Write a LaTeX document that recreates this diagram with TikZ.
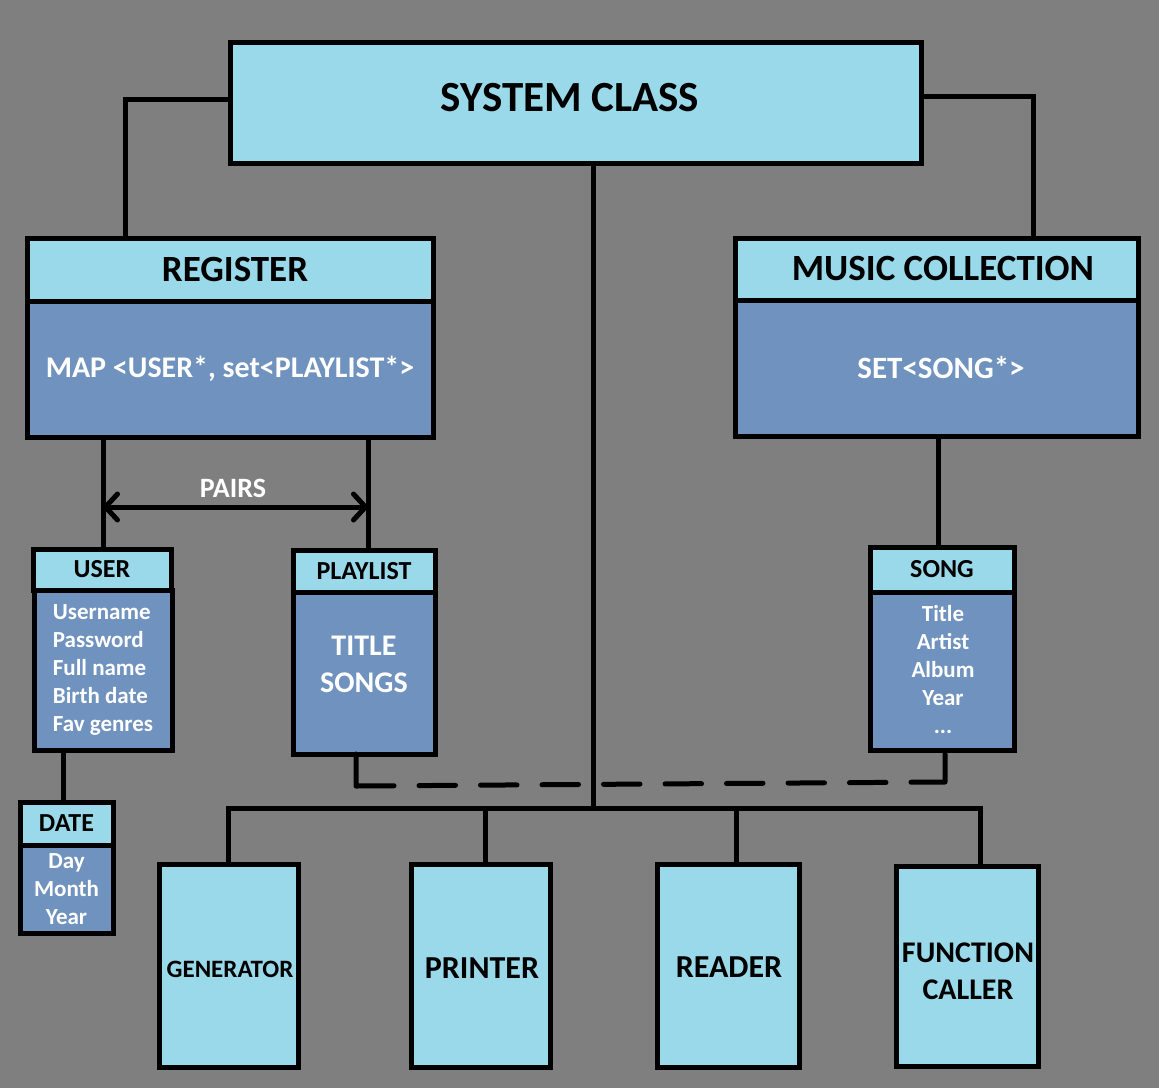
\documentclass[tikz,border=0pt]{standalone}
\usepackage{fontspec}
\setmainfont{Carlito}
\usetikzlibrary{arrows.meta}
\definecolor{bg}{RGB}{127,127,127}
\definecolor{lb}{RGB}{153,217,234}
\definecolor{db}{RGB}{112,146,190}
\newcommand\myfs[2]{\fontsize{#1}{#2}\selectfont}
\begin{document}
\begin{tikzpicture}[x=1pt,y=-1pt,
  box/.style={draw=black, line width=5pt, inner sep=0pt, outer sep=0pt, align=center},
  hdr/.style={box, fill=lb, text=black},
  bdy/.style={box, fill=db, text=white},
  conn/.style={draw=black, line width=5pt},
  txt/.style={align=center, inner sep=0pt},
  dtxt/.style={txt, text=black},
  wtxt/.style={txt, text=white},
  barb/.style={{Straight Barb[length=12pt,width=26pt,round]}-{Straight Barb[length=12pt,width=26pt,round]}}]
\fill[bg] (0,0) rectangle (1159,1088);
\useasboundingbox (0,0) rectangle (1159,1088);

% top
\node[hdr, minimum width=691pt, minimum height=121pt] (sys) at (575.5,102.5) {};
\node[dtxt, font=\bfseries\myfs{43}{51}] (systext) at (570,98) {SYSTEM CLASS};

% register
\node[hdr, minimum width=406pt, minimum height=63pt] (reghdr) at (230,269.5) {};
\node[dtxt, font=\bfseries\myfs{37}{44}] (regtext) at (235,269) {REGISTER};
\node[bdy, minimum width=406pt, minimum height=136pt, font=\bfseries\myfs{30}{36}] (regbody) at (230,369) {MAP <USER*, set<PLAYLIST*>};

% music collection
\node[hdr, minimum width=403pt, minimum height=62pt] (mushdr) at (936.5,269) {};
\node[dtxt, font=\bfseries\myfs{37}{44}] (mustext) at (943,268) {MUSIC COLLECTION};
\node[bdy, minimum width=403pt, minimum height=136pt] (musbody) at (936.5,368) {};
\node[wtxt, font=\bfseries\myfs{31}{37}] (musbtext) at (941,368) {SET<SONG*>};

% user
\node[hdr, minimum width=138pt, minimum height=41pt, font=\bfseries\myfs{26}{31}] (userhdr) at (102,569.5) {USER};
\node[bdy, minimum width=138pt, minimum height=160pt, align=left, font=\bfseries\myfs{23}{28}] (userbody) at (103,670) {Username\\Password\\Full name\\Birth date\\Fav genres};

% playlist
\node[hdr, minimum width=142pt, minimum height=42pt, font=\bfseries\myfs{26}{31}] (plhdr) at (364,571) {PLAYLIST};
\node[bdy, minimum width=142pt, minimum height=162pt] (plbody) at (364,673) {};
\node[wtxt, font=\bfseries\myfs{30}{37}] (pltext) at (364,664.5) {TITLE\\SONGS};

% date
\node[hdr, minimum width=93pt, minimum height=43pt, font=\bfseries\myfs{26}{31}] (datehdr) at (66.5,823.5) {DATE};
\node[bdy, minimum width=93pt, minimum height=88pt, font=\bfseries\myfs{23}{28}] (datebody) at (66.5,889) {Day\\Month\\Year};

% song
\node[hdr, minimum width=144pt, minimum height=45pt, font=\bfseries\myfs{26}{31}] (songhdr) at (942,569.5) {SONG};
\node[bdy, minimum width=144pt, minimum height=158pt] (songbody) at (942,671) {};
\node[wtxt, font=\bfseries\myfs{23}{28}] (songtext) at (943,669) {Title\\Artist\\Album\\Year\\...};

% bottom row
\node[hdr, minimum width=139pt, minimum height=203pt] (gen) at (228.5,965.5) {};
\node[dtxt, font=\bfseries\myfs{25}{30}] (gentext) at (230,969) {GENERATOR};
\node[hdr, minimum width=139pt, minimum height=203pt] (prn) at (480.5,965.5) {};
\node[dtxt, font=\bfseries\myfs{32}{38}] (prntext) at (482,968) {PRINTER};
\node[hdr, minimum width=142pt, minimum height=203pt] (rdr) at (728,965.5) {};
\node[dtxt, font=\bfseries\myfs{32}{38}] (rdrtext) at (729,967) {READER};
\node[hdr, minimum width=142pt, minimum height=200pt] (fc) at (967,966) {};
\node[dtxt, font=\bfseries\myfs{30}{37}] (fctext) at (968,971.5) {FUNCTION\\CALLER};

% junction coordinates
\coordinate (jL) at (125,99);
\coordinate (jR) at (1033,96);
\coordinate (bus) at (593,808);
\coordinate (xP) at (485,808);
\coordinate (xR) at (736,808);
\coordinate (xF) at (980,808);
\coordinate (xU) at (103,507);
\coordinate (xPl) at (368,507);
\coordinate (xS) at (938,500);
\coordinate (xD) at (63,780);
\coordinate (d1) at (356,786);
\coordinate (d2) at (945,782);

% connectors
\draw[conn] (reghdr.north -| jL) |- (sys.west |- jL);
\draw[conn] (mushdr.north -| jR) |- (sys.east |- jR);
\draw[conn] (sys.south -| bus) -- (bus);
\draw[conn] (gen.north) |- (xF) -- (fc.north -| xF);
\draw[conn] (xP) -- (prn.north -| xP);
\draw[conn] (xR) -- (rdr.north -| xR);
\draw[conn] (regbody.south -| xU) -- (userhdr.north -| xU);
\draw[conn] (regbody.south -| xPl) -- (plhdr.north -| xPl);
\draw[conn, barb] (xU) -- (xPl);
\node[wtxt, font=\bfseries\myfs{28}{34}] (pairs) at (233,488) {PAIRS};
\draw[conn] (musbody.south -| xS) -- (songhdr.north -| xS);
\draw[conn] (userbody.south -| xD) -- (datehdr.north -| xD);
\draw[conn, line cap=round, line join=round,
  dash pattern=on 70pt off 25pt on 36.5pt off 25pt on 36.5pt off 25pt on 36.5pt off 25pt on 36.5pt off 25pt on 36.5pt off 25pt on 36.5pt off 25pt on 36.5pt off 25pt on 36.5pt off 25pt on 62pt off 30pt]
  (plbody.south -| d1) -- (d1) -- (d2) -- (songbody.south -| d2);
\end{tikzpicture}
\end{document}
